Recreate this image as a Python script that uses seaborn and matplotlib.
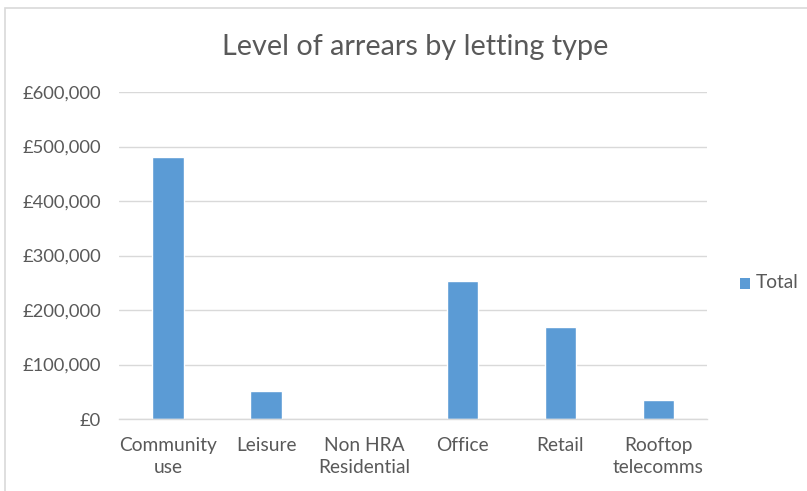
import matplotlib
matplotlib.use("Agg")
import matplotlib.pyplot as plt
from matplotlib.patches import Rectangle
import seaborn as sns
import pandas as pd

categories = ["Community\nuse", "Leisure", "Non HRA\nResidential", "Office", "Retail", "Rooftop\ntelecomms"]
totals = [480000, 52000, 0, 253000, 168000, 34000]
y_ticks = [0, 100000, 200000, 300000, 400000, 500000, 600000]
y_tick_labels = ["£0", "£100,000", "£200,000", "£300,000", "£400,000", "£500,000", "£600,000"]
series_name = "Total"

df = pd.DataFrame({"category": categories, "value": totals, "series": series_name})

sns.set_theme(style="white")
plt.rcParams["font.family"] = ["Lato", "DejaVu Sans"]

text_color = "#595959"
bar_color = "#5B9BD5"
grid_color = "#D9D9D9"

fig = plt.figure(figsize=(8.07, 4.91), dpi=100)
ax = fig.add_axes([0.1475, 0.1466, 0.729, 0.666])

sns.barplot(data=df, x="category", y="value", hue="series", palette=[bar_color],
            width=0.32, ax=ax, legend=False, saturation=1)

ax.set_ylim(0, 600000)
ax.set_xlim(-0.5, len(categories) - 0.5)
ax.set_yticks(y_ticks)
ax.set_yticklabels(y_tick_labels)
ax.yaxis.grid(True, color=grid_color, linewidth=1)
ax.set_axisbelow(True)
for side in ["top", "right", "left"]:
    ax.spines[side].set_visible(False)
ax.spines["bottom"].set_color(grid_color)
ax.spines["bottom"].set_linewidth(1)
ax.tick_params(axis="both", length=0, colors=text_color)
ax.tick_params(axis="y", pad=13, labelsize=13.2)
ax.tick_params(axis="x", pad=13, labelsize=13.8)
for lbl in ax.get_xticklabels():
    lbl.set_linespacing(1.35)
ax.set_xlabel("")
ax.set_ylabel("")

fig.text(0.515, 0.905, "Level of arrears by letting type", ha="center", va="center",
         fontsize=20.7, color=text_color)

# legend
fig.patches.append(Rectangle((0.9165, 0.412), 0.0125, 0.021, transform=fig.transFigure,
                             facecolor=bar_color, edgecolor="none"))
fig.text(0.937, 0.4245, series_name, ha="left", va="center", fontsize=13.8, color=text_color)

# chart area frame
fig.patches.append(Rectangle((0.0065, -0.01), 1.2, 0.993, transform=fig.transFigure,
                             facecolor="none", edgecolor="#D9D9D9", linewidth=1.2))

fig.savefig("out.png", dpi=100, facecolor="white")
